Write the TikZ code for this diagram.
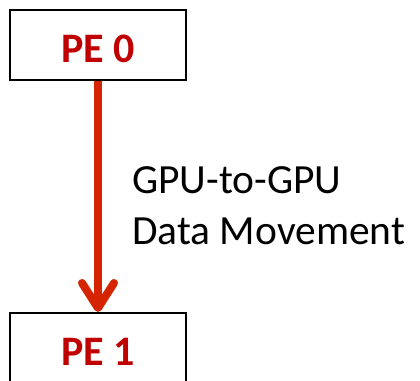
\documentclass[tikz,border=0pt]{standalone}
\usepackage{fontspec}
\setmainfont{Carlito}
\usetikzlibrary{arrows.meta}
\definecolor{pered}{RGB}{192,0,0}
\definecolor{arrowred}{RGB}{212,36,0}
\begin{document}
\begin{tikzpicture}[x=1pt,y=-1pt,
  pebox/.style={draw=black,line width=1.6pt,minimum width=176pt,minimum height=70.5pt,inner sep=0pt,text height=34pt,text depth=0pt,font=\fontsize{42}{42}\selectfont\bfseries,text=pered,fill=white},
  moveline/.style={draw=arrowred,line width=8pt,-{Straight Barb[length=25pt,width=32pt,round]}}]
\useasboundingbox (0,0) rectangle (420,380);
\clip (0,0) rectangle (420,380);
\node[pebox] (pe0) at (98,45) {PE 0};
\node[pebox,anchor=north] (pe1) at (98,312) {PE 1};
\draw[moveline] (pe0.south) -- (pe1.north);
\node[anchor=north west,align=left,inner sep=0pt,font=\fontsize{41.5}{51}\selectfont] (lbl) at (132,166) {GPU-to-GPU\\Data Movement};
\end{tikzpicture}
\end{document}
